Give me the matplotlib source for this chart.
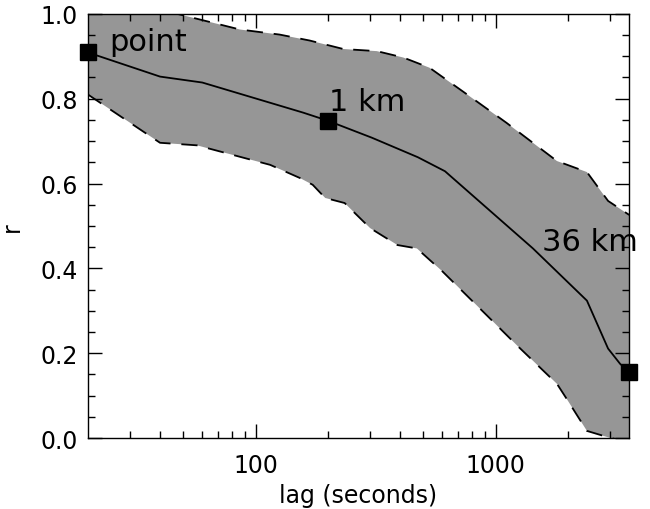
import matplotlib
matplotlib.use('Agg')
from matplotlib import pyplot as plt
from matplotlib.ticker import FixedLocator, NullFormatter

# centre line (mean r vs lag)
lag_mid = [20, 40, 60, 158, 200, 305, 474, 615, 1430, 2400, 2940, 3300, 3600]
r_mid = [0.909, 0.852, 0.838, 0.767, 0.748, 0.708, 0.662, 0.629, 0.447, 0.324, 0.211, 0.175, 0.156]

# upper envelope
lag_hi = [20, 40, 86, 126, 168, 232, 320, 412, 530, 760, 1110, 1800, 2400, 2940, 3600]
r_hi = [1.05, 1.01, 0.963, 0.951, 0.937, 0.917, 0.912, 0.897, 0.873, 0.810, 0.743, 0.653, 0.627, 0.559, 0.526]

# lower envelope
lag_lo = [20, 40, 57, 115, 153, 173, 195, 235, 300, 390, 470, 600, 920, 1230, 1800, 2000, 2400, 2940, 3600]
r_lo = [0.810, 0.696, 0.690, 0.644, 0.613, 0.597, 0.566, 0.554, 0.495, 0.455, 0.447, 0.393, 0.289, 0.218, 0.128, 0.088, 0.017, 0.002, -0.01]

# marked points and their labels
mark_lag = [20, 200, 3600]
mark_r = [0.909, 0.748, 0.156]
mark_text = ['point', '1 km', '36 km']
text_pos = [(24.5, 0.9), (203, 0.76), (1560, 0.43)]

y_major = [0.0, 0.2, 0.4, 0.6, 0.8, 1.0]
y_labels = ['0.0', '0.2', '0.4', '0.6', '0.8', '1.0']
y_minor = [0.05, 0.1, 0.15, 0.25, 0.3, 0.35, 0.45, 0.5, 0.55,
           0.65, 0.7, 0.75, 0.85, 0.9, 0.95]
x_major = [100, 1000]
x_labels = ['100', '1000']
x_minor = [30, 40, 50, 60, 70, 80, 90, 200, 300, 400, 500, 600, 700, 800, 900, 2000, 3000]

fig = plt.figure(figsize=(6.5, 5.1), dpi=100)
ax = fig.add_axes([0.135, 0.139, 0.833, 0.832])

# grey band between envelopes
ax.fill(lag_hi + lag_lo[::-1], r_hi + r_lo[::-1], color='#969696', lw=0)
ax.plot(lag_hi, r_hi, color='black', lw=1.3, dashes=(9, 6))
ax.plot(lag_lo, r_lo, color='black', lw=1.3, dashes=(9, 6))
ax.plot(lag_mid, r_mid, color='black', lw=1.3)
ax.plot(mark_lag, mark_r, 's', color='black', ms=11, clip_on=False, zorder=5)

for (tx, ty), s in zip(text_pos, mark_text):
    ax.text(tx, ty, s, fontsize=22, ha='left', va='bottom', clip_on=False)

ax.set_xscale('log')
ax.set_xlim(20, 3600)
ax.set_ylim(0, 1.0)

ax.xaxis.set_major_locator(FixedLocator(x_major))
ax.xaxis.set_minor_locator(FixedLocator(x_minor))
ax.xaxis.set_minor_formatter(NullFormatter())
ax.set_xticklabels(x_labels)
ax.yaxis.set_major_locator(FixedLocator(y_major))
ax.yaxis.set_minor_locator(FixedLocator(y_minor))
ax.set_yticklabels(y_labels)

ax.tick_params(which='both', direction='in', top=True, right=True, labelsize=17, width=1, pad=7)
ax.tick_params(axis='x', which='both', pad=11)
ax.tick_params(which='major', length=10)
ax.tick_params(which='minor', length=5)
for sp in ax.spines.values():
    sp.set_linewidth(1.0)

ax.set_xlabel('lag (seconds)', fontsize=17, labelpad=4)
ax.set_ylabel('r', fontsize=17, labelpad=12)

fig.savefig('out.png', dpi=100)
